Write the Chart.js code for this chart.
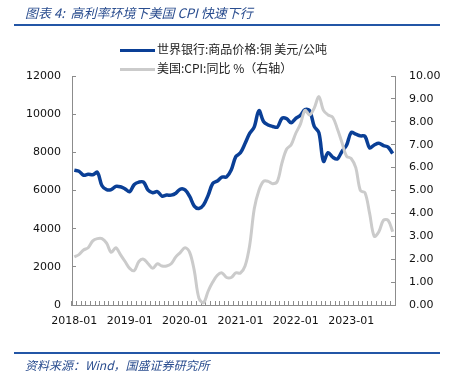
<!DOCTYPE html>
<html>
<head>
<meta charset="utf-8">
<script src="https://cdn.jsdelivr.net/npm/chart.js@4.4.0/dist/chart.umd.min.js"></script>
<style>
  body { margin: 0; background: #fff; }
  #wrap { position: relative; width: 454px; height: 372px; overflow: hidden; font-family: "DejaVu Sans", sans-serif; }
  #myChart { position: absolute; left: 0; top: 0; }
  .title { position: absolute; left: 25px; top: 3px; font: italic 13px "Noto Sans CJK SC", sans-serif; color: #2a4d8f; white-space: nowrap; }
  .rule { position: absolute; left: 14px; width: 426px; height: 2px; background: #2356a6; }
  .source { position: absolute; left: 25px; top: 356px; font: italic 12px "Noto Sans CJK SC", sans-serif; color: #2a4d8f; white-space: nowrap; }
  .legend { position: absolute; left: 120px; font: 12px "Noto Sans CJK SC", sans-serif; color: #222; white-space: nowrap; }
  .legend span.swatch { display: inline-block; width: 35px; height: 3px; vertical-align: middle; margin-right: 2px; }
</style>
</head>
<body>
<div id="wrap">
  <canvas id="myChart" width="454" height="372"></canvas>
  <div class="title">图表 4:&nbsp; 高利率环境下美国 CPI 快速下行</div>
  <div class="rule" style="top:24px"></div>
  <div class="legend" id="leg1" style="top:40px"></div>
  <div class="legend" id="leg2" style="top:59px"></div>
  <div class="rule" style="top:352px"></div>
  <div class="source">资料来源：Wind，国盛证券研究所</div>
</div>
<script>
// months 2018-01 .. 2023-10
let months = [];
for (let y = 2018; y <= 2023; y++) {
  for (let m = 1; m <= 12; m++) {
    if (y === 2023 && m > 10) break;
    months.push(y + "-" + (m < 10 ? "0" + m : m));
  }
}

const copperLabel = "世界银行:商品价格:铜 美元/公吨";
const cpiLabel = "美国:CPI:同比 %（右轴）";

// 美元/公吨
const copper = [
  7066, 7007, 6800, 6852, 6824, 6951, 6249, 6046, 6051, 6220, 6196, 6086,
  5939, 6319, 6439, 6441, 6017, 5880, 5941, 5709, 5759, 5756, 5860, 6077,
  6031, 5687, 5183, 5058, 5240, 5744, 6365, 6497, 6705, 6713, 7069, 7772,
  7972, 8460, 8989, 9336, 10184, 9613, 9433, 9357, 9324, 9778, 9765, 9551,
  9781, 9941, 10238, 10183, 9361, 9032, 7532, 7982, 7747, 7651, 8049, 8367,
  9039, 8955, 8865, 8835, 8234, 8386, 8478, 8353, 8270, 7940
];

// %
const cpi = [
  2.1, 2.2, 2.4, 2.5, 2.8, 2.9, 2.9, 2.7, 2.3, 2.5, 2.2, 1.9,
  1.6, 1.5, 1.9, 2.0, 1.8, 1.6, 1.8, 1.7, 1.7, 1.8, 2.1, 2.3,
  2.5, 2.3, 1.5, 0.3, 0.1, 0.6, 1.0, 1.3, 1.4, 1.2, 1.2, 1.4,
  1.4, 1.7, 2.6, 4.2, 5.0, 5.4, 5.4, 5.3, 5.4, 6.2, 6.8, 7.0,
  7.5, 7.9, 8.5, 8.3, 8.6, 9.1, 8.5, 8.3, 8.2, 7.7, 7.1, 6.5,
  6.4, 6.0, 5.0, 4.9, 4.0, 3.0, 3.2, 3.7, 3.7, 3.2
];

const blue = "#0a3f96";
const gray = "#cbcbcb";
const axisGray = "#8c8c8c";

let legend = (id, color, text) => {
  let el = document.getElementById(id);
  el.innerHTML = '<span class="swatch" style="background:' + color + '"></span>' + text;
};
legend("leg1", blue, copperLabel);
legend("leg2", gray, cpiLabel);

const ctx = document.getElementById("myChart").getContext("2d");
const chart = new Chart(ctx, {
  type: "line",
  data: {
    labels: months,
    datasets: [
      {
        label: copperLabel,
        data: copper,
        yAxisID: "y",
        borderColor: blue,
        borderWidth: 3.5,
        pointRadius: 0,
        tension: 0.35,
        order: 1
      },
      {
        label: cpiLabel,
        data: cpi,
        yAxisID: "y1",
        borderColor: gray,
        borderWidth: 3,
        pointRadius: 0,
        tension: 0.35,
        order: 0
      }
    ]
  },
  options: {
    responsive: false,
    animation: false,
    layout: { padding: { left: 0, right: 0, top: 76, bottom: 0 } },
    plugins: { legend: { display: false }, tooltip: { enabled: false } },
    scales: {
      x: {
        offset: true,
        afterFit: (s) => { s.height = 67; },
        grid: { offset: true, drawOnChartArea: false, tickLength: -4, color: axisGray },
        border: { color: axisGray },
        ticks: {
          autoSkip: false,
          maxRotation: 0,
          padding: 14,
          color: "#111",
          font: { family: "DejaVu Sans", size: 11 },
          callback: function (value) {
            let l = this.getLabelForValue(value);
            return l.endsWith("-01") ? l : "";
          }
        }
      },
      y: {
        position: "left",
        min: 0,
        max: 12000,
        afterFit: (s) => { s.width = 72; },
        grid: { drawOnChartArea: false, tickLength: -4, color: axisGray },
        border: { color: axisGray },
        ticks: {
          stepSize: 2000,
          padding: 15,
          color: "#111",
          font: { family: "DejaVu Sans", size: 11 },
          callback: (v) => String(v)
        }
      },
      y1: {
        position: "right",
        min: 0,
        max: 10,
        afterFit: (s) => { s.width = 59; },
        grid: { drawOnChartArea: false, tickLength: -4, color: axisGray },
        border: { color: axisGray },
        ticks: {
          stepSize: 1,
          padding: 18,
          color: "#111",
          font: { family: "DejaVu Sans", size: 11 },
          callback: (v) => v.toFixed(2)
        }
      }
    }
  }
});
</script>
</body>
</html>
